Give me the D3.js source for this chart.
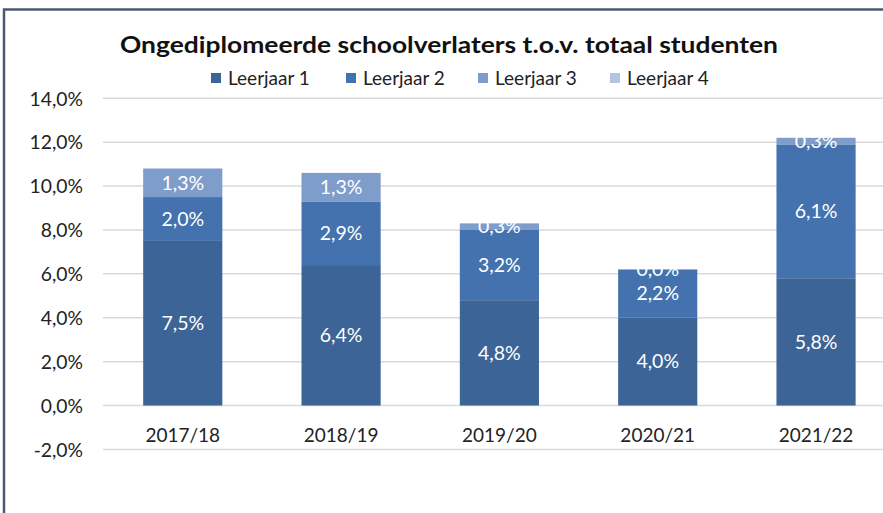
<!DOCTYPE html>
<html>
<head>
<meta charset="utf-8">
<script src="https://cdn.jsdelivr.net/npm/d3@7"></script>
<style>
  html, body { margin: 0; padding: 0; background: #fff; }
  svg { display: block; }
  text { font-family: Lato, "Open Sans", sans-serif; }
</style>
</head>
<body>
<svg id="chart" width="883" height="513"></svg>
<script>
const title = "Ongediplomeerde schoolverlaters t.o.v. totaal studenten";
const categories = ["2017/18", "2018/19", "2019/20", "2020/21", "2021/22"];
const seriesNames = ["Leerjaar 1", "Leerjaar 2", "Leerjaar 3", "Leerjaar 4"];
const leerjaar1 = [7.5, 6.4, 4.8, 4.0, 5.8];
const leerjaar2 = [2.0, 2.9, 3.2, 2.2, 6.1];
const leerjaar3 = [1.3, 1.3, 0.3, 0.0, 0.3];
const leerjaar4 = [null, null, null, null, null];
const yTicks = [-2, 0, 2, 4, 6, 8, 10, 12, 14];
const colors = ["#3c6497", "#4472ae", "#7f9dcb", "#b3c3e1"];

const seriesValues = [leerjaar1, leerjaar2, leerjaar3, leerjaar4];
const svg = d3.select("#chart");
const W = 883, H = 513;

// frame
svg.append("rect").attr("x", 4).attr("y", 9.5).attr("width", W + 10).attr("height", H + 10)
  .attr("fill", "#fff").attr("stroke", "#4a5a70").attr("stroke-width", 2.5);

const x = d3.scaleBand().domain(categories).range([103.6, 895.2]).paddingInner(0.5).paddingOuter(0.25);
const y = d3.scaleLinear().domain([-2, 14]).range([449.4, 98.3]);

// gridlines
svg.append("g").selectAll("line").data(yTicks).join("line")
  .attr("x1", 103).attr("x2", W)
  .attr("y1", d => y(d)).attr("y2", d => y(d))
  .attr("stroke", "#d9d9d9").attr("stroke-width", 1.5);

// y axis labels
const fmt = v => v.toFixed(1).replace(".", ",") + "%";
const yAxis = d3.axisLeft(y).tickValues(yTicks).tickFormat(fmt).tickSize(0).tickPadding(0);
const ya = svg.append("g").attr("transform", "translate(83,0)").call(yAxis);
ya.select(".domain").remove();
ya.selectAll("text").attr("font-size", 19.3).attr("fill", "#222").attr("dy", "0.35em")
  .style("font-family", "Lato, 'Open Sans', sans-serif");

// stack
const table = categories.map((c, i) => {
  const o = { cat: c };
  seriesNames.forEach((s, k) => { o[s] = seriesValues[k][i] == null ? 0 : seriesValues[k][i]; });
  return o;
});
const stacked = d3.stack().keys(seriesNames)(table);

const bars = svg.append("g");
stacked.forEach((layer, k) => {
  bars.append("g").attr("fill", colors[k]).selectAll("rect").data(layer).join("rect")
    .attr("x", d => x(d.data.cat))
    .attr("width", x.bandwidth())
    .attr("y", d => y(d[1]))
    .attr("height", d => Math.max(0, y(d[0]) - y(d[1])));
});

// data labels (white, centered in segment)
const labels = svg.append("g");
stacked.forEach((layer, k) => {
  layer.forEach((d, i) => {
    const v = seriesValues[k][i];
    if (v == null) return;
    labels.append("text")
      .attr("x", x(d.data.cat) + x.bandwidth() / 2)
      .attr("y", y((d[0] + d[1]) / 2))
      .attr("dy", "0.35em")
      .attr("text-anchor", "middle")
      .attr("font-size", 19.5)
      .attr("fill", "#fff")
      .text(fmt(v));
  });
});

// x axis category labels
const xAxis = d3.axisBottom(x).tickSize(0).tickPadding(0);
const xa = svg.append("g").attr("transform", "translate(0,435)").call(xAxis);
xa.select(".domain").remove();
xa.selectAll("text").attr("font-size", 19).attr("fill", "#222").attr("dy", "0.35em").attr("y", 0)
  .style("font-family", "Lato, 'Open Sans', sans-serif");

// title
svg.append("text").attr("x", 449).attr("y", 53).attr("text-anchor", "middle")
  .attr("font-size", 23).attr("font-weight", "bold").attr("fill", "#111")
  .attr("textLength", 658).attr("lengthAdjust", "spacingAndGlyphs")
  .text(title);

// legend
const legendX = [211, 346, 478, 610];
const lg = svg.append("g").selectAll("g").data(seriesNames).join("g")
  .attr("transform", (d, i) => `translate(${legendX[i]},78)`);
lg.append("rect").attr("x", 0).attr("y", -5).attr("width", 10).attr("height", 10)
  .attr("fill", (d, i) => colors[i]);
lg.append("text").attr("x", 17).attr("y", 0).attr("dy", "0.35em")
  .attr("font-size", 19).attr("fill", "#222").text(d => d);
</script>
</body>
</html>
